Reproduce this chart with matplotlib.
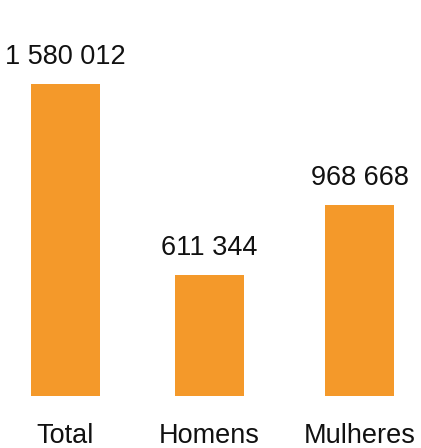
import matplotlib
matplotlib.use("Agg")
import matplotlib.pyplot as plt

categories = ["Total", "Homens", "Mulheres"]
values = [1580012, 611344, 968668]
value_labels = ["1 580 012", "611 344", "968 668"]

bar_color = "#F4992A"
positions = [0, 1, 2.042]

plt.rcParams['font.family'] = ['Liberation Sans', 'DejaVu Sans']

fig = plt.figure(figsize=(4.21, 4.48), dpi=100)
ax = fig.add_axes([0, 52 / 448, 1, 396 / 448])

ax.bar(positions, values, width=0.479, color=bar_color)
ax.set_xlim(-65.5 / 144, (421 - 65.5) / 144)
ax.set_ylim(0, values[0] * 396 / 312)

for x, v, lab in zip(positions, values, value_labels):
    ax.annotate(lab, (x, v), xytext=(0, 14.5), textcoords="offset points",
                ha="center", va="baseline", fontsize=19.5, color="#111111")

for x, cat in zip(positions, categories):
    ax.annotate(cat, (x, 0), xytext=(0, -34), textcoords="offset points",
                ha="center", va="baseline", fontsize=19.5, color="#111111",
                annotation_clip=False)

ax.axis("off")
fig.savefig("out.png", dpi=100)
